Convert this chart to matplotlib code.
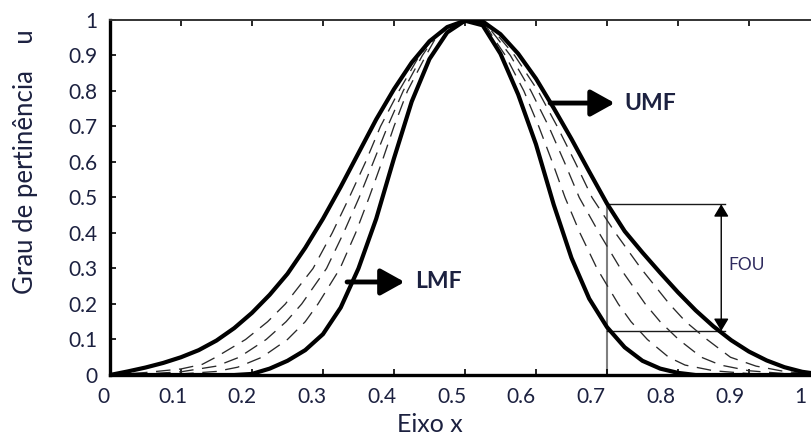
import matplotlib
matplotlib.use("Agg")
import matplotlib.pyplot as plt
import matplotlib.transforms as mtransforms

plt.rcParams['font.family'] = ['Lato', 'DejaVu Sans']

# pontos de amostragem do eixo x
x_grid = [0.0, 0.025, 0.05, 0.075, 0.1, 0.125, 0.15, 0.175, 0.2, 0.225,
          0.25, 0.275, 0.3, 0.325, 0.35, 0.375, 0.4, 0.425, 0.45, 0.475,
          0.5, 0.525, 0.55, 0.575, 0.6, 0.625, 0.65, 0.675, 0.7, 0.725,
          0.75, 0.775, 0.8, 0.825, 0.85, 0.875, 0.9, 0.925, 0.95, 0.975, 1.0]

# função de pertinência superior (UMF)
umf = [0.0, 0.01, 0.021, 0.034, 0.05, 0.07, 0.097, 0.132, 0.175, 0.226,
       0.285, 0.358, 0.44, 0.53, 0.625, 0.72, 0.805, 0.88, 0.94, 0.98,
       0.998, 0.996, 0.96, 0.905, 0.835, 0.752, 0.665, 0.573, 0.483, 0.405,
       0.345, 0.288, 0.233, 0.182, 0.137, 0.098, 0.066, 0.041, 0.022, 0.009, 0.002]

# função de pertinência inferior (LMF)
lmf = [0.0, 0.0, 0.0, 0.0, 0.0, 0.0, 0.0, 0.0, 0.003, 0.018,
       0.04, 0.07, 0.115, 0.19, 0.3, 0.44, 0.61, 0.77, 0.89, 0.965,
       0.998, 0.985, 0.905, 0.79, 0.65, 0.48, 0.33, 0.215, 0.135, 0.078,
       0.04, 0.018, 0.006, 0.0, 0.0, 0.0, 0.0, 0.0, 0.0, 0.0, 0.0]

# curvas intermediárias (tracejadas)
d1_x = [0.0, 0.05, 0.1, 0.13, 0.149, 0.191, 0.222, 0.247, 0.286, 0.313, 0.337, 0.36,
        0.381, 0.407, 0.436, 0.456, 0.475, 0.51,
        0.534, 0.549, 0.57, 0.603, 0.63, 0.655, 0.679, 0.712, 0.748, 0.788, 0.811,
        0.841, 0.874, 0.91, 0.95, 1.0]
d1_y = [0.0, 0.007, 0.017, 0.03, 0.05, 0.1, 0.15, 0.2, 0.3, 0.4, 0.5, 0.6,
        0.7, 0.8, 0.9, 0.95, 0.98, 0.998,
        0.98, 0.95, 0.9, 0.8, 0.7, 0.6, 0.5, 0.4, 0.3, 0.2, 0.15,
        0.1, 0.05, 0.025, 0.01, 0.0]

d2_x = [0.0, 0.05, 0.1, 0.15, 0.182, 0.22, 0.248, 0.27, 0.305, 0.329, 0.351, 0.371,
        0.391, 0.413, 0.44, 0.457, 0.476, 0.508,
        0.533, 0.545, 0.564, 0.593, 0.618, 0.64, 0.661, 0.689, 0.719, 0.754, 0.775,
        0.801, 0.833, 0.86, 0.9, 0.95, 1.0]
d2_y = [0.0, 0.003, 0.009, 0.025, 0.05, 0.1, 0.15, 0.2, 0.3, 0.4, 0.5, 0.6,
        0.7, 0.8, 0.9, 0.95, 0.98, 0.998,
        0.98, 0.95, 0.9, 0.8, 0.7, 0.6, 0.5, 0.4, 0.3, 0.2, 0.15,
        0.1, 0.05, 0.028, 0.012, 0.004, 0.0]

d3_x = [0.0, 0.05, 0.1, 0.15, 0.18, 0.214, 0.25, 0.275, 0.293, 0.324, 0.346, 0.365,
        0.383, 0.4, 0.419, 0.445, 0.459, 0.477, 0.506,
        0.531, 0.54, 0.557, 0.583, 0.604, 0.623, 0.641, 0.662, 0.686, 0.716, 0.734,
        0.757, 0.787, 0.81, 0.85, 0.9, 1.0]
d3_y = [0.0, 0.001, 0.003, 0.01, 0.022, 0.05, 0.1, 0.15, 0.2, 0.3, 0.4, 0.5,
        0.6, 0.7, 0.8, 0.9, 0.95, 0.98, 0.998,
        0.98, 0.95, 0.9, 0.8, 0.7, 0.6, 0.5, 0.4, 0.3, 0.2, 0.15,
        0.1, 0.05, 0.028, 0.012, 0.004, 0.0]

# marcação do FOU em x = 0.7
fou_x = 0.7
fou_top = 0.481
fou_bottom = 0.124
fou_arrow_x = 0.861

ticks = [0, 0.1, 0.2, 0.3, 0.4, 0.5, 0.6, 0.7, 0.8, 0.9, 1]
tick_labels = ['0', '0.1', '0.2', '0.3', '0.4', '0.5', '0.6', '0.7', '0.8', '0.9', '1']

text_color = '#1c2140'

fig = plt.figure(figsize=(8.11, 4.46), dpi=100)
ax = fig.add_axes([0.1356, 0.1592, 0.8754, 0.796])

# curvas tracejadas
for xs, ys in [(d1_x, d1_y), (d2_x, d2_y), (d3_x, d3_y)]:
    ax.plot(xs, ys, color='#2a2a2a', lw=0.95, linestyle=(0, (11, 6.5)), zorder=2)

# UMF e LMF
ax.plot(x_grid, umf, color='black', lw=3.0, zorder=3, solid_joinstyle='round')
ax.plot(x_grid, lmf, color='black', lw=3.0, zorder=3, solid_joinstyle='round')

# FOU
ax.plot([fou_x, fou_x], [0, fou_top], color='#7f7f7f', lw=1.5, zorder=1)
ax.plot([fou_x, 0.866], [fou_top, fou_top], color='#1a1a1a', lw=1.0, zorder=1)
ax.plot([fou_x, 0.866], [fou_bottom, fou_bottom], color='#1a1a1a', lw=1.0, zorder=1)
ax.annotate('', xy=(fou_arrow_x, fou_top), xytext=(fou_arrow_x, fou_bottom),
            arrowprops=dict(arrowstyle='<|-|>,head_length=0.5,head_width=0.3',
                            color='black', lw=1.0, shrinkA=0, shrinkB=0,
                            mutation_scale=15))
ax.text(0.897, 0.31, 'FOU', fontsize=12.5, color='#2e2a5e', ha='center', va='center')

# setas UMF / LMF
ax.annotate('', xy=(0.711, 0.766), xytext=(0.62, 0.766),
            arrowprops=dict(arrowstyle='-|>,head_length=0.72,head_width=0.4',
                            color='black', lw=3.5, shrinkA=0, shrinkB=0,
                            mutation_scale=20))
ax.text(0.725, 0.766, 'UMF', fontsize=16.5, fontweight='bold', color=text_color,
        ha='left', va='center')
ax.annotate('', xy=(0.415, 0.262), xytext=(0.334, 0.262),
            arrowprops=dict(arrowstyle='-|>,head_length=0.72,head_width=0.4',
                            color='black', lw=3.5, shrinkA=0, shrinkB=0,
                            mutation_scale=20))
ax.text(0.43, 0.262, 'LMF', fontsize=16.5, fontweight='bold', color=text_color,
        ha='left', va='center')

ax.set_xlim(0, 1)
ax.set_ylim(0, 1)
ax.set_xticks(ticks)
ax.set_xticklabels(tick_labels)
ax.set_yticks(ticks)
ax.set_yticklabels(tick_labels)

ax.tick_params(axis='both', direction='in', length=4, width=1.2, labelsize=15,
               labelcolor=text_color)
ax.tick_params(axis='x', top=True, pad=9)
ax.tick_params(axis='y', pad=9)

for side in ['left', 'bottom']:
    ax.spines[side].set_linewidth(2.4)
    ax.spines[side].set_color('black')
ax.spines['top'].set_linewidth(1.4)
ax.spines['top'].set_color('#333333')
ax.spines['right'].set_visible(False)

# rótulos do eixo x deslocados um pouco para a esquerda, como no original
for t, lab in zip(ticks, ax.get_xticklabels()):
    dx = -(7 + 13 * t) / 100.0
    lab.set_transform(lab.get_transform() +
                      mtransforms.ScaledTranslation(dx, 0, fig.dpi_scale_trans))

fig.text(0.031, 0.638, 'Grau de pertinência    u', rotation=90, fontsize=18.5,
         color=text_color, ha='center', va='center')
fig.text(0.53, 0.049, 'Eixo x', fontsize=18, color=text_color, ha='center', va='center')

fig.savefig('out.png', dpi=100)
